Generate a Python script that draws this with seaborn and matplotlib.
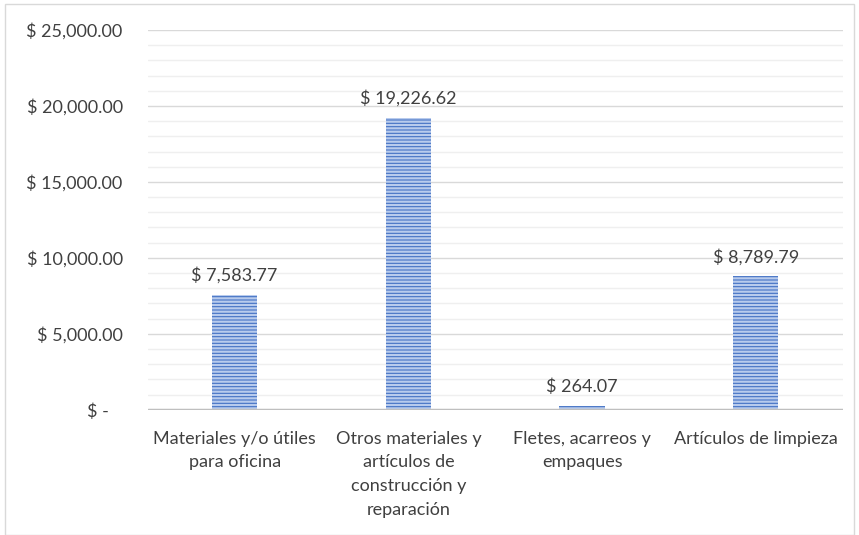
import pandas as pd
import numpy as np
import matplotlib.pyplot as plt
import seaborn as sns
from matplotlib.ticker import MultipleLocator, FuncFormatter

categorias = ['Materiales y/o útiles\npara oficina',
              'Otros materiales y\nartículos de\nconstrucción y\nreparación',
              'Fletes, acarreos y\nempaques',
              'Artículos de limpieza']
montos = [7583.77, 19226.62, 264.07, 8789.79]

df = pd.DataFrame({'categoria': categorias, 'monto': montos})

sns.set_style('white')
plt.rcParams['font.family'] = ['Lato', 'DejaVu Sans']
plt.rcParams['hatch.linewidth'] = 1.6

fig = plt.figure(figsize=(8.59, 5.35), dpi=100)
ax = fig.add_axes([0.172, 0.234, 0.809, 0.710])

sns.barplot(data=df, x='categoria', y='monto', color='#4472c4', width=0.26,
            saturation=1, ax=ax)
for bar in ax.patches:
    bar.set_hatch('-----')
    bar.set_edgecolor('#b8cbed')
    bar.set_linewidth(0)

ax.set_ylim(0, 25000)
ax.yaxis.set_major_locator(MultipleLocator(5000))
ax.yaxis.set_minor_locator(MultipleLocator(1000))

def fmt(v, pos):
    if v == 0:
        return '$ -   '
    return f'$ {v:,.2f}'

ax.yaxis.set_major_formatter(FuncFormatter(fmt))
ax.grid(axis='y', which='major', color='#d9d9d9', linewidth=1)
ax.grid(axis='y', which='minor', color='#efefef', linewidth=1)
ax.set_axisbelow(True)
ax.axhline(0, color='#bfbfbf', linewidth=2.5, zorder=3)

for s in ax.spines.values():
    s.set_visible(False)

ax.tick_params(axis='both', which='both', length=0, labelsize=13,
               labelcolor='#404040')
ax.tick_params(axis='y', pad=18)
ax.tick_params(axis='x', pad=15)
for lbl in ax.get_xticklabels():
    lbl.set_va('top')
    lbl.set_linespacing(1.6)
ax.set_xlabel('')
ax.set_ylabel('')

for i, v in enumerate(montos):
    ax.text(i, v + 700, f'$ {v:,.2f}', ha='center', va='bottom',
            fontsize=13, color='#404040')

fig.patches.append(plt.Rectangle((0.006, 0.0), 0.988, 0.992,
                                 transform=fig.transFigure, fill=False,
                                 edgecolor='#d9d9d9', linewidth=1))

plt.savefig('out.png', dpi=100)
